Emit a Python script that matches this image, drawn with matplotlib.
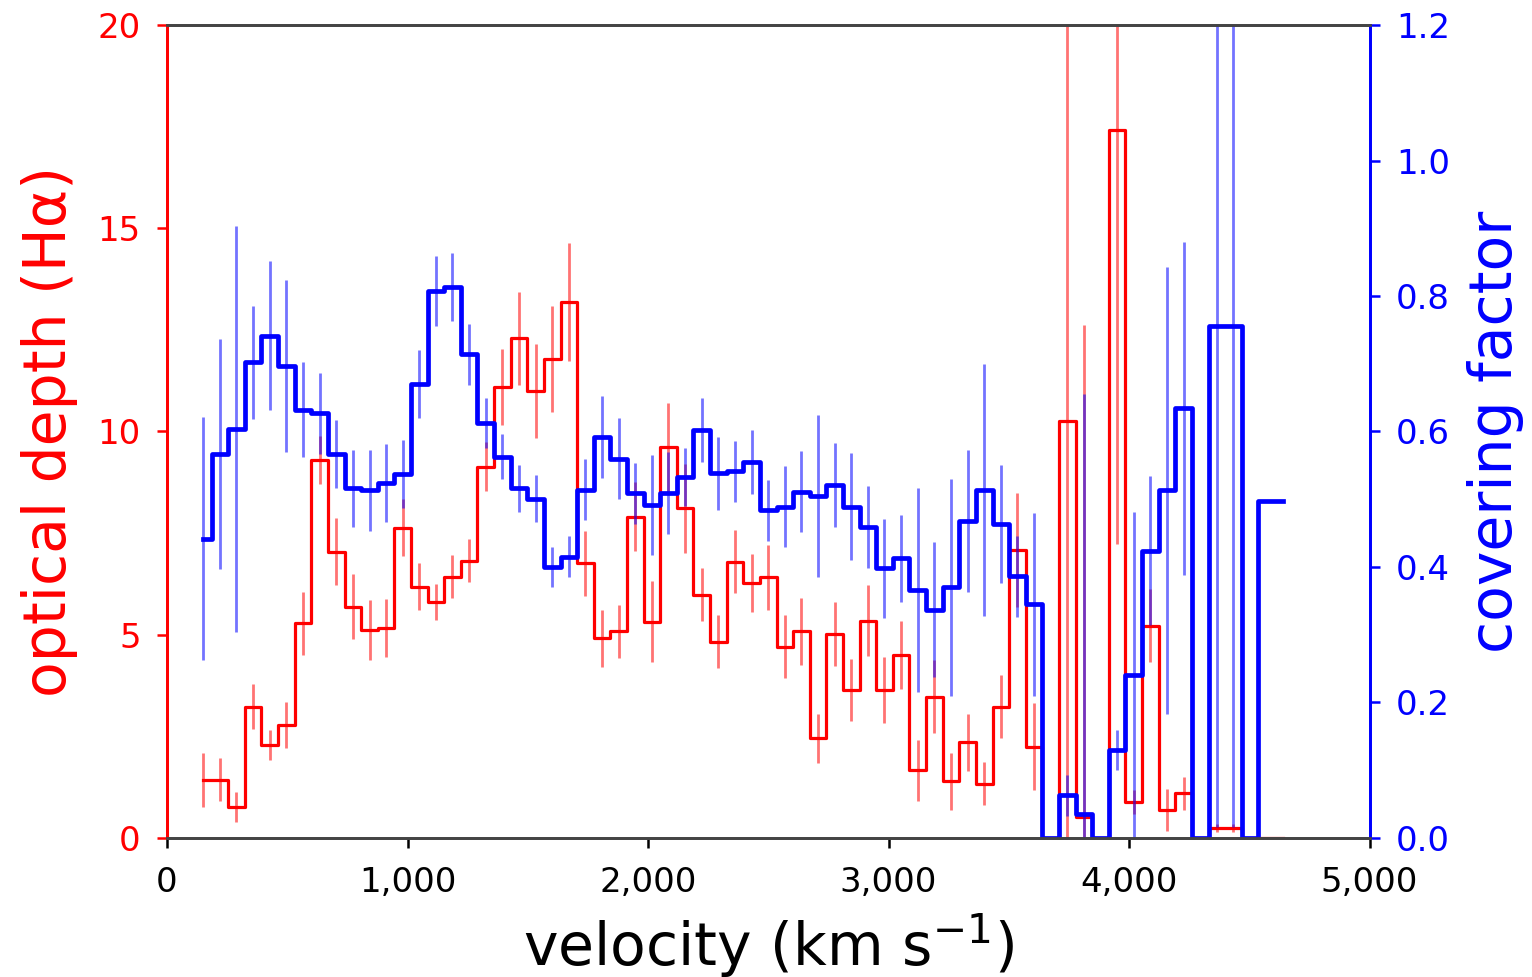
import numpy as np
import matplotlib
matplotlib.use("Agg")
import matplotlib.pyplot as plt
from matplotlib.ticker import FuncFormatter

# velocity grid (km/s)
velocity = [151, 220, 289, 358, 427, 496, 566, 635, 704, 773,
            842, 911, 980, 1049, 1118, 1187, 1256, 1325, 1394, 1463,
            1533, 1602, 1671, 1740, 1809, 1878, 1947, 2016, 2085, 2154,
            2223, 2292, 2361, 2431, 2500, 2569, 2638, 2707, 2776, 2845,
            2914, 2983, 3052, 3121, 3190, 3259, 3329, 3398, 3467, 3536,
            3605, 3674, 3743, 3812, 3881, 3950, 4019, 4088, 4157, 4227,
            4296, 4365, 4434, 4503, 4572, 4641]

# optical depth (H alpha) and its error
tau = [1.43, 1.43, 0.77, 3.23, 2.29, 2.78, 5.28, 9.30, 7.04, 5.69,
       5.12, 5.16, 7.63, 6.18, 5.81, 6.43, 6.82, 9.13, 11.09, 12.29,
       11.00, 11.78, 13.19, 6.76, 4.91, 5.08, 7.90, 5.32, 9.61, 8.11,
       5.98, 4.83, 6.80, 6.27, 6.41, 4.71, 5.08, 2.45, 5.02, 3.64,
       5.35, 3.64, 4.50, 1.66, 3.48, 1.39, 2.35, 1.33, 3.23, 7.08,
       2.25, 0.0, 10.26, 0.52, 0.0, 17.42, 0.89, 5.22, 0.69, 1.10,
       0.0, 0.24, 0.24, 0.0, 0.0, 0.0]
tau_err = [0.66, 0.53, 0.37, 0.55, 0.37, 0.57, 0.78, 0.60, 0.82, 0.80,
           0.74, 0.72, 0.70, 0.58, 0.45, 0.53, 0.53, 0.60, 0.94, 1.15,
           1.15, 1.30, 1.45, 0.80, 0.70, 0.65, 0.85, 1.00, 1.10, 1.10,
           0.65, 0.65, 0.78, 0.72, 0.80, 0.78, 0.82, 0.60, 0.78, 0.76,
           0.88, 0.80, 0.84, 0.76, 0.90, 0.70, 0.70, 0.53, 0.78, 1.40,
           1.07, np.nan, 10.3, 12.1, np.nan, 10.2, 0.30, 0.90, 0.52, 0.40,
           np.nan, 0.10, 0.10, np.nan, np.nan, np.nan]

# covering factor and its error
cover = [0.442, 0.567, 0.604, 0.702, 0.741, 0.696, 0.632, 0.627, 0.567, 0.516,
         0.513, 0.524, 0.537, 0.670, 0.807, 0.813, 0.714, 0.612, 0.563, 0.516,
         0.501, 0.400, 0.415, 0.514, 0.592, 0.560, 0.509, 0.491, 0.509, 0.533,
         0.602, 0.538, 0.541, 0.555, 0.484, 0.489, 0.511, 0.505, 0.521, 0.489,
         0.459, 0.398, 0.413, 0.366, 0.337, 0.370, 0.468, 0.513, 0.463, 0.386,
         0.345, 0.0, 0.063, 0.036, 0.0, 0.130, 0.241, 0.424, 0.513, 0.634,
         0.0, 0.756, 0.756, 0.0, 0.498, 0.498]
cover_err = [0.18, 0.17, 0.30, 0.083, 0.11, 0.127, 0.07, 0.06, 0.05, 0.057,
             0.06, 0.058, 0.05, 0.05, 0.052, 0.05, 0.045, 0.037, 0.033, 0.035,
             0.035, 0.03, 0.03, 0.045, 0.06, 0.06, 0.045, 0.074, 0.06, 0.043,
             0.047, 0.054, 0.045, 0.047, 0.045, 0.06, 0.06, 0.12, 0.062, 0.079,
             0.06, 0.073, 0.064, 0.15, 0.10, 0.16, 0.105, 0.186, 0.087, 0.06,
             0.135, np.nan, 0.03, 0.62, np.nan, 0.03, 0.24, 0.11, 0.33, 0.246,
             np.nan, 0.74, 0.74, np.nan, np.nan, np.nan]

fig = plt.figure(figsize=(15.32, 9.77), dpi=100)
ax = fig.add_axes([0.109, 0.1423, 0.785, 0.8321])

ax.step(velocity, tau, where="mid", color="red", lw=2.3)
ax.errorbar(velocity, tau, yerr=tau_err, fmt="none", ecolor="red", alpha=0.55, elinewidth=2.0)
ax.set_xlim(0, 5000)
ax.set_ylim(0, 20)
ax.set_yticks([0, 5, 10, 15, 20])
ax.set_xticks([0, 1000, 2000, 3000, 4000, 5000])
ax.xaxis.set_major_formatter(FuncFormatter(lambda v, p: f"{v:,.0f}"))
ax.set_ylabel("optical depth (H\u03b1)", color="red", fontsize=42, labelpad=14)
ax.set_xlabel("velocity (km s$^{-1}$)", fontsize=42, labelpad=9)
ax.tick_params(axis="y", colors="red", labelsize=24.5, length=7, width=1.8, pad=12)
ax.tick_params(axis="x", labelsize=24.5, length=7, width=1.8, pad=13)

ax2 = ax.twinx()
ax2.step(velocity, cover, where="mid", color="blue", lw=3.4)
ax2.errorbar(velocity, cover, yerr=cover_err, fmt="none", ecolor="blue", alpha=0.55, elinewidth=2.0)
ax2.set_ylim(0, 1.2)
ax2.set_yticks([0.0, 0.2, 0.4, 0.6, 0.8, 1.0, 1.2])
ax2.yaxis.set_major_formatter(FuncFormatter(lambda v, p: f"{v:.1f}"))
ax2.set_ylabel("covering factor", color="blue", fontsize=42, labelpad=12)
ax2.tick_params(axis="y", colors="blue", labelsize=24.5, length=7, width=1.8, pad=12)

for a in (ax, ax2):
    a.spines["left"].set_color("red")
    a.spines["right"].set_color("blue")
    a.spines["top"].set_color("#444444")
    a.spines["bottom"].set_color("#444444")
    for s in a.spines.values():
        s.set_linewidth(2.0)

fig.savefig("out.png", dpi=100)
